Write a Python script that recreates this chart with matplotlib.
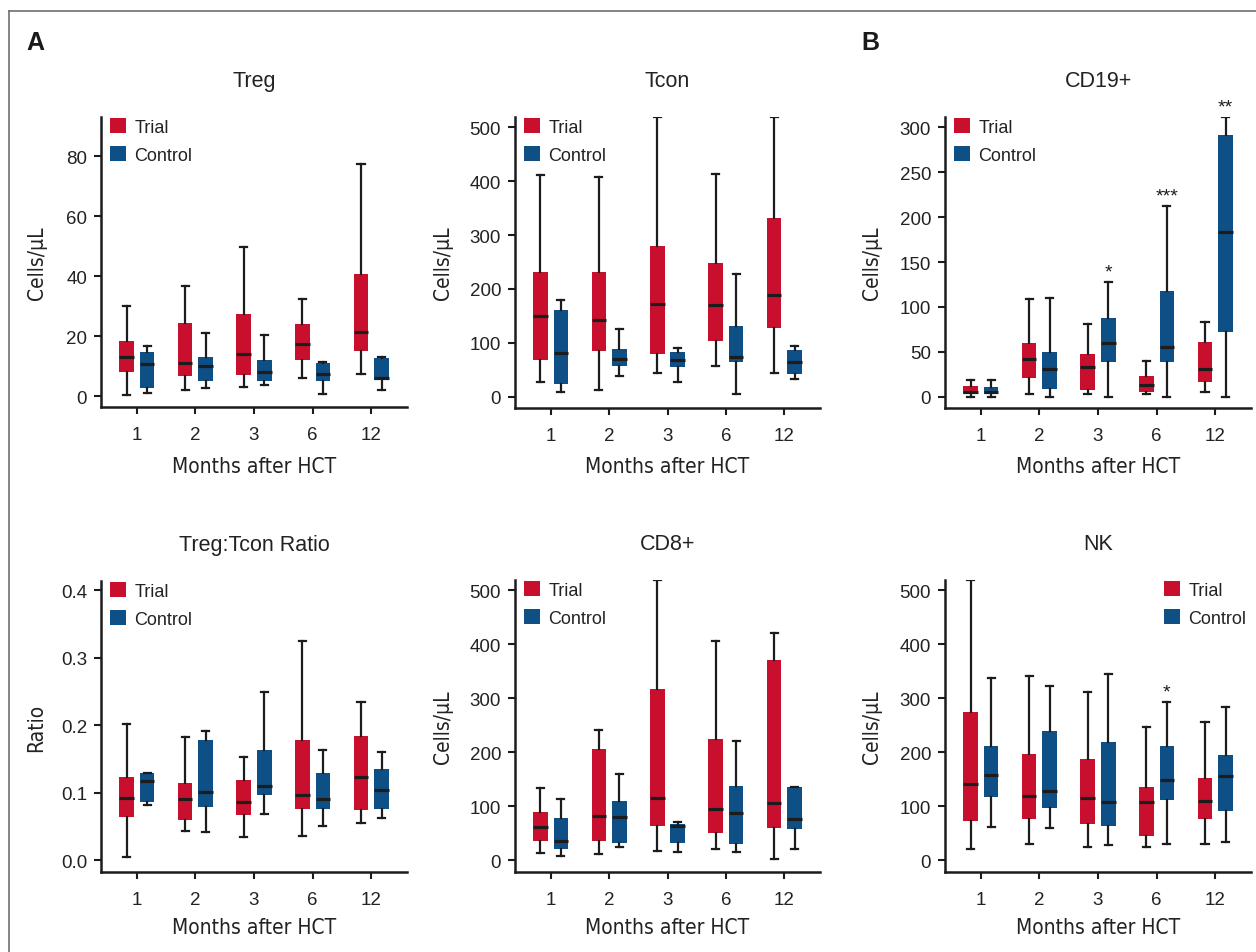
import matplotlib
matplotlib.use("Agg")
import matplotlib.pyplot as plt
from matplotlib.patches import Patch
from matplotlib.lines import Line2D
from matplotlib import font_manager

plt.rcParams['font.family'] = ['Liberation Sans', 'DejaVu Sans']


def find_narrow():
    # look for an installed condensed sans face for the axis labels
    best = None
    for f in font_manager.fontManager.ttflist:
        name = f.name
        cond = 'condensed' in str(f.stretch).lower() or 'Narrow' in name or 'Condensed' in name \
            or 'condensed' in f.fname.lower() or 'narrow' in f.fname.lower()
        if not cond or f.style != 'normal' or 'Mono' in name or 'Serif' in name:
            continue
        w = f.weight if isinstance(f.weight, int) else 400
        if w > 500:
            continue
        score = 0 if 'Liberation' in name else 1
        if best is None or score < best[0]:
            best = (score, f.fname)
    if best:
        return font_manager.FontProperties(fname=best[1]), True
    return font_manager.FontProperties(family='Liberation Sans'), False


narrow_fp, has_narrow = find_narrow()

months = ['1', '2', '3', '6', '12']

# each row: [whisker low, q1, median, q3, whisker high]
treg_trial = [[0.4, 8.0, 13.3, 18.4, 30.0], [2.0, 6.7, 11.1, 24.4, 36.8], [3.3, 7.0, 14.0, 27.4, 49.8],
              [6.3, 12.3, 17.6, 24.1, 32.6], [7.6, 15.0, 21.4, 40.8, 77.4]]
treg_control = [[1.1, 2.8, 10.8, 14.8, 16.9], [2.7, 5.0, 10.0, 13.1, 21.2], [3.9, 5.3, 8.1, 12.1, 20.4],
                [0.8, 5.3, 7.4, 11.3, 11.6], [2.0, 5.4, 6.1, 12.8, 13.1]]

tcon_trial = [[27.8, 68.6, 149.6, 230.5, 411.6], [11.7, 85.3, 142.8, 230.5, 408.5], [43.3, 79.7, 172.4, 278.7, 519],
              [57.5, 103.8, 170.6, 247.2, 412.9], [44.5, 127.9, 189.1, 332.5, 519]]
tcon_control = [[9.3, 24.1, 81.0, 160.1, 179.8], [38.9, 57.5, 69.8, 87.8, 126.1], [27.8, 55.6, 67.4, 82.2, 89.6],
                [4.3, 64.9, 74.2, 130.4, 227.4], [32.1, 41.4, 64.9, 85.9, 94.6]]

cd19_trial = [[0, 2.6, 4.8, 11.5, 18.5], [3.3, 20.4, 41.9, 59.3, 109], [2.6, 7.8, 33.0, 47.1, 80.5],
              [2.6, 4.8, 13.0, 22.6, 39.7], [4.8, 16.7, 30.8, 60.4, 82.7]]
cd19_control = [[0, 2.6, 5.6, 10.4, 18.5], [0, 8.9, 30.4, 49.3, 110], [0, 38.2, 60.0, 87.1, 127.5],
                [0, 38.2, 55.2, 117.2, 212], [0, 72.3, 183.9, 291.8, 311.5]]
cd19_stars = ['', '', '*', '***', '**']

ratio_trial = [[0.005, 0.064, 0.092, 0.123, 0.202], [0.043, 0.060, 0.091, 0.114, 0.182], [0.034, 0.067, 0.086, 0.119, 0.153],
               [0.036, 0.076, 0.097, 0.179, 0.325], [0.055, 0.075, 0.123, 0.184, 0.235]]
ratio_control = [[0.082, 0.087, 0.117, 0.130, 0.130], [0.042, 0.079, 0.101, 0.178, 0.191], [0.068, 0.097, 0.110, 0.163, 0.250],
                 [0.051, 0.076, 0.091, 0.129, 0.163], [0.062, 0.076, 0.104, 0.135, 0.161]]

cd8_trial = [[13.6, 35.9, 61.3, 89.1, 134.3], [11.1, 35.9, 82.3, 205.4, 242], [17.3, 63.7, 115.1, 317.5, 519.2],
             [21.7, 50.1, 95.9, 224, 406], [2.5, 60.0, 105.8, 370.7, 420.8]]
cd8_control = [[8.7, 21.7, 35.9, 79.2, 113.9], [24.1, 32.2, 79.8, 108.9, 160.3], [15.5, 32.2, 63.1, 68.1, 71.8],
               [14.9, 30.3, 87.9, 136.8, 220.9], [21.7, 58.8, 76.1, 134.9, 135.5]]

nk_trial = [[20.4, 73.6, 140.5, 274.1, 519.2], [30.9, 76.7, 119.4, 196.8, 341.6], [25.4, 67.5, 115.1, 186.9, 311.3],
            [24.8, 45.2, 108.3, 134.9, 246.9], [30.9, 76.7, 110.1, 151.6, 256.2]]
nk_control = [[62.5, 117.6, 157.2, 211.0, 337.3], [59.4, 97.2, 128.7, 238.9, 322.4], [29.1, 63.7, 107.7, 218.4, 344.7],
              [30.3, 112.0, 148.5, 211.0, 292.7], [33.4, 91.6, 155.9, 194.9, 283.4]]
nk_stars = ['', '', '', '*', '']

RED = '#C8102E'
BLUE = '#0E4F86'
DARK = '#1c1c1c'
TXT = '#222222'
W, H = 1256, 953
LABEL_SIZE = 15 if has_narrow else 13.5


def px_rect(l, t, r, b):
    return [l / W, 1 - b / H, (r - l) / W, (b - t) / H]


def to_stats(rows):
    return [dict(whislo=r[0], q1=r[1], med=r[2], q3=r[3], whishi=r[4]) for r in rows]


def draw_panel(rect, title, trial, control, ylim, yticks, ylabel, ylab_x, xlab_y,
               stars=None, legend_right=False, ytickfmt=None):
    ax = fig.add_axes(px_rect(*rect))
    x = list(range(len(months)))
    for rows, off, col in [(trial, -0.175, RED), (control, 0.175, BLUE)]:
        ax.bxp(to_stats(rows), positions=[i + off for i in x], widths=0.25, patch_artist=True,
               showfliers=False, capwidths=0.12, manage_ticks=False,
               boxprops=dict(facecolor=col, edgecolor=col, linewidth=0),
               medianprops=dict(color=DARK, linewidth=2.3, solid_capstyle='butt'),
               whiskerprops=dict(color=DARK, linewidth=1.6),
               capprops=dict(color=DARK, linewidth=1.6))
    if stars:
        for i, s in enumerate(stars):
            if s:
                ax.annotate(s, (i + 0.175, control[i][4]), xytext=(0, 1), textcoords='offset points',
                            ha='center', va='bottom', fontsize=14, color=DARK)
    ax.set_xlim(-0.61, 4.61)
    ax.set_ylim(*ylim)
    ax.set_xticks(x)
    ax.set_xticklabels(months)
    ax.set_yticks(yticks)
    if ytickfmt:
        ax.set_yticklabels([ytickfmt.format(v) for v in yticks])
    for s in ['top', 'right']:
        ax.spines[s].set_visible(False)
    for s in ['left', 'bottom']:
        ax.spines[s].set_linewidth(1.8)
        ax.spines[s].set_color(DARK)
    ax.tick_params(axis='both', length=5, width=1.5, color=DARK, labelsize=13.5, labelcolor=TXT)
    ax.tick_params(axis='x', pad=9)
    ax.tick_params(axis='y', pad=5)
    ax.set_xlabel('Months after HCT', fontproperties=narrow_fp, fontsize=LABEL_SIZE, color=TXT)
    ax.xaxis.set_label_coords(0.5, xlab_y)
    ax.xaxis.label.set_va('center')
    ax.set_ylabel(ylabel, fontproperties=narrow_fp, fontsize=LABEL_SIZE, color=TXT)
    ax.yaxis.set_label_coords(ylab_x, 0.5)
    ax.yaxis.label.set_va('center')
    ax.text(0.5, 1 + 36 / 290, title, transform=ax.transAxes, ha='center', va='center',
            fontsize=15.5, color=TXT)
    handles = [Patch(facecolor=RED, edgecolor='none', label='Trial'),
               Patch(facecolor=BLUE, edgecolor='none', label='Control')]
    if legend_right:
        loc, anchor = 'upper right', (0.985, 0.997)
    else:
        loc, anchor = 'upper left', (0.03, 0.997)
    ax.legend(handles=handles, loc=loc, bbox_to_anchor=anchor, frameon=False,
              fontsize=13, handlelength=0.9, handleheight=0.9, handletextpad=0.45,
              borderpad=0, borderaxespad=0, labelspacing=0.6, labelcolor=TXT)
    return ax


fig = plt.figure(figsize=(W / 100, H / 100), dpi=100)

draw_panel((101, 118, 407, 408), 'Treg', treg_trial, treg_control, (-3.5, 93.1),
           [0, 20, 40, 60, 80], 'Cells/\u03bcL', -0.21, -0.203)
draw_panel((515, 118, 820, 409), 'Tcon', tcon_trial, tcon_control, (-21, 519),
           [0, 100, 200, 300, 400, 500], 'Cells/\u03bcL', -0.236, -0.2)
draw_panel((945, 118, 1251, 409), 'CD19+', cd19_trial, cd19_control, (-12.6, 311.5),
           [0, 50, 100, 150, 200, 250, 300], 'Cells/\u03bcL', -0.24, -0.2, stars=cd19_stars)
draw_panel((101, 582, 407, 873), 'Treg:Tcon Ratio', ratio_trial, ratio_control, (-0.0174, 0.414),
           [0.0, 0.1, 0.2, 0.3, 0.4], 'Ratio', -0.211, -0.19, ytickfmt='{:.1f}')
draw_panel((515, 581, 820, 873), 'CD8+', cd8_trial, cd8_control, (-21.7, 519.2),
           [0, 100, 200, 300, 400, 500], 'Cells/\u03bcL', -0.236, -0.19)
draw_panel((945, 581, 1251, 873), 'NK', nk_trial, nk_control, (-21.7, 519.2),
           [0, 100, 200, 300, 400, 500], 'Cells/\u03bcL', -0.24, -0.19, stars=nk_stars, legend_right=True)

fig.text(35 / W, 1 - 43 / H, 'A', fontsize=18, fontweight='bold', ha='center', va='center', color='#1a1a1a')
fig.text(870 / W, 1 - 43 / H, 'B', fontsize=18, fontweight='bold', ha='center', va='center', color='#1a1a1a')

# thin frame at top and left edges
fig.add_artist(Line2D([8.5 / W, 1], [1 - 12 / H, 1 - 12 / H], transform=fig.transFigure, color='#707070', lw=1.2))
fig.add_artist(Line2D([8.5 / W, 8.5 / W], [0, 1 - 12 / H], transform=fig.transFigure, color='#707070', lw=1.2))

fig.savefig('out.png', dpi=100)
